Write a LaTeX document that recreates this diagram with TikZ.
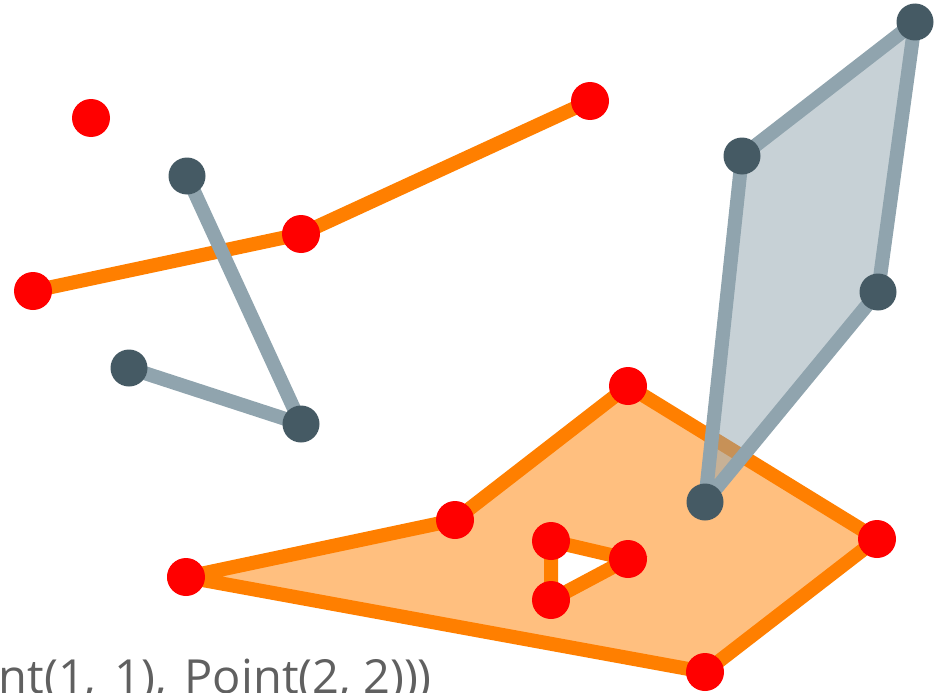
\documentclass[tikz,border=0pt]{standalone}
\usepackage{fontspec}
\setmainfont{Open Sans}
\definecolor{ostroke}{HTML}{FF7F00}
\definecolor{gstroke}{HTML}{90A4AE}
\definecolor{gdot}{HTML}{455A64}
\definecolor{rdot}{HTML}{FF0000}
\definecolor{txt}{HTML}{606060}
\tikzset{
  orangeline/.style={draw=ostroke, line width=14pt},
  orangefill/.style={fill=ostroke, fill opacity=0.5, even odd rule},
  grayline/.style={draw=gstroke, line width=14pt},
  graypoly/.style={grayline, line join=round, fill=gstroke, fill opacity=0.5, draw opacity=1},
  reddot/.style={circle, fill=rdot, inner sep=0pt, minimum size=38pt},
  graydot/.style={circle, fill=gdot, inner sep=0pt, minimum size=37pt},
  label/.style={text=txt, font=\fontsize{47}{54}\selectfont, inner sep=0pt}
}
\newcommand{\widesp}{\hspace{18pt}}
\begin{document}
\begin{tikzpicture}[x=1pt, y=-1pt]
\useasboundingbox (0,0) rectangle (948,693);
% coordinates
\coordinate (a) at (91,118);
\coordinate (l1) at (33,291);
\coordinate (l2) at (301,234);
\coordinate (l3) at (590,101);
\coordinate (g1) at (187,176);
\coordinate (g2) at (301,424);
\coordinate (g3) at (129,368);
\coordinate (p1) at (186,577);
\coordinate (p2) at (455,520);
\coordinate (p3) at (628,386);
\coordinate (p4) at (877,539);
\coordinate (p5) at (705,672);
\coordinate (h1) at (551,541);
\coordinate (h2) at (628,559);
\coordinate (h3) at (551,600);
\coordinate (q1) at (742,156);
\coordinate (q2) at (705,502);
\coordinate (q3) at (878,292);
\coordinate (q4) at (915,22);
% text
\node[label, anchor=base east] (t) at (432,693) {GeometryCollection(Point(1,\widesp1),\widesp Point(2, 2)))};
% orange polygon with hole
\path[orangefill] (p1) -- (p2) -- (p3) -- (p4) -- (p5) -- cycle
  (h1) -- (h2) -- (h3) -- cycle;
\begin{scope}
  \clip (167,0) rectangle (948,693);
  \draw[orangeline] (p1) -- (p2) -- (p3) -- (p4) -- (p5) -- cycle
    (h1) -- (h2) -- (h3) -- cycle;
\end{scope}
% gray polygon
\path[graypoly] (q1) -- (q2) -- (q3) -- (q4) -- cycle;
% orange line
\draw[orangeline] (l1) -- (l2) -- (l3);
% gray line
\draw[grayline] (g1) -- (g2) -- (g3);
% dots
\foreach \n in {a,l1,l2,l3,p1,p2,p3,p4,p5,h1,h2,h3}
  \node[reddot] (\n-dot) at (\n) {};
\foreach \n in {g1,g2,g3,q1,q2,q3,q4}
  \node[graydot] (\n-dot) at (\n) {};
\end{tikzpicture}
\end{document}
